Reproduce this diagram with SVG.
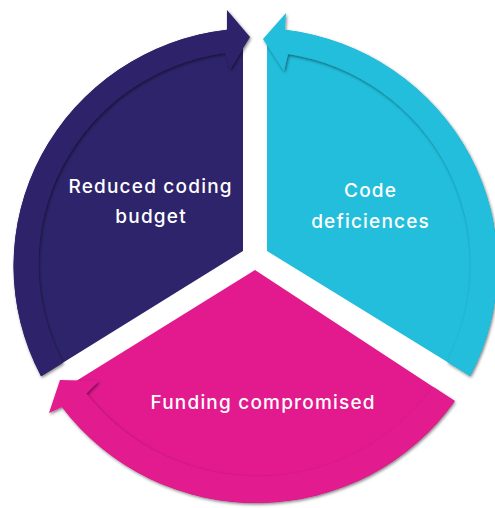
<svg xmlns="http://www.w3.org/2000/svg" width="495" height="508" viewBox="0 0 495 508">
<defs>
<filter id="sh" x="-10%" y="-10%" width="120%" height="120%">
<feDropShadow dx="1" dy="1.5" stdDeviation="1.8" flood-color="#000" flood-opacity="0.5"/>
</filter>
<style>
.lbl{font-family:Inter,"Liberation Sans",sans-serif;font-size:19px;font-weight:500;fill:#fff;text-anchor:middle;letter-spacing:1.2px}
.navy{fill:#2E246B}
.cyan{fill:#22BEDC}
.pink{fill:#E21A8E}
.arrow{filter:url(#sh)}
</style>
</defs>
<rect width="495" height="508" fill="#fff"/>
<g id="node-reduced-coding-budget">
<path class="navy" d="M243,251 L243,42 L227,29.7 A242,238 0 0 0 41.1,376.3 Z"/>
<text class="lbl" x="150.6" y="193">Reduced coding</text>
<text class="lbl" x="151.1" y="223">budget</text>
</g>
<g id="node-code-deficiences">
<path class="cyan" d="M267,251 L267,43 L285,29.8 A242,238 0 0 1 470.1,376.1 Z"/>
<text class="lbl" x="370.6" y="197">Code</text>
<text class="lbl" x="370.6" y="228">deficiences</text>
</g>
<g id="node-funding-compromised">
<path class="pink" d="M255,270 L454.7,401.1 A242,238 0 0 1 62,407 L60,391 Z"/>
<text class="lbl" x="263.1" y="408.5">Funding compromised</text>
</g>
<g id="connectors">
<path class="navy arrow" d="M41.1,376.3 A242,238 0 0 1 227,29.7 L227,10 L250,37 L230,70 L225,53 A216,213 0 0 0 63,362.7 Z"/>
<path class="cyan arrow" d="M470.1,376.1 A242,238 0 0 0 285,29.8 L286,13 L263,39 L284,71 L288,54 A216,213 0 0 1 447,361.8 Z"/>
<path class="pink arrow" d="M454.7,401.1 A242,238 0 0 1 62,407 L49,413 L60,380 L99,381 L86.4,393.6 A216,213 0 0 0 433.2,387 Z"/>
</g>
</svg>
